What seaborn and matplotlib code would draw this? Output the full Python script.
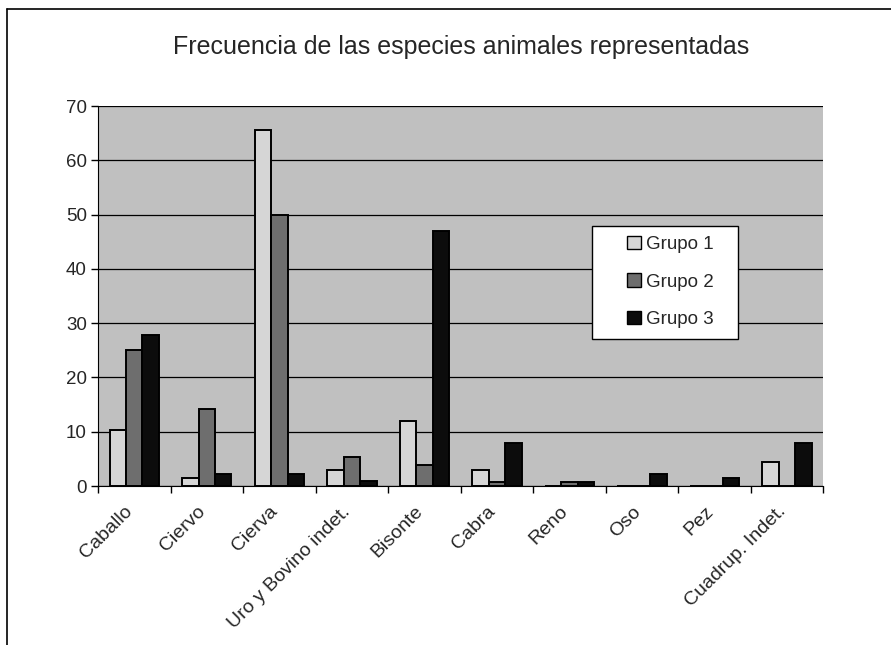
import pandas as pd
import numpy as np
import matplotlib.pyplot as plt
import matplotlib.transforms as mtransforms
import seaborn as sns

especies = ['Caballo', 'Ciervo', 'Cierva', 'Uro y Bovino indet.', 'Bisonte',
            'Cabra', 'Reno', 'Oso', 'Pez', 'Cuadrup. Indet.']
grupo1 = [10.4, 1.4, 65.6, 3.0, 12.0, 3.0, 0.0, 0.0, 0.0, 4.4]
grupo2 = [25.0, 14.1, 50.0, 5.4, 3.9, 0.8, 0.8, 0.0, 0.0, 0.0]
grupo3 = [27.8, 2.3, 2.3, 0.9, 47.0, 8.0, 0.8, 2.3, 1.5, 8.0]
grupos = ['Grupo 1', 'Grupo 2', 'Grupo 3']

df = pd.DataFrame({
    'especie': especies * 3,
    'valor': grupo1 + grupo2 + grupo3,
    'grupo': [g for g in grupos for _ in especies],
})

sns.set_style('white')
plt.rcParams['font.family'] = ['Liberation Sans', 'DejaVu Sans']

fig = plt.figure(figsize=(8.91, 6.45), dpi=100)
ax = fig.add_axes([0.110, 0.2465, 0.814, 0.589])

sns.barplot(data=df, x='especie', y='valor', hue='grupo', ax=ax,
            palette=['#d6d6d6', '#6e6e6e', '#0c0c0c'], width=0.68,
            edgecolor='black', linewidth=1.4, saturation=1)

ax.set_facecolor('#c0c0c0')
ax.set_ylim(0, 70)
ax.set_xlim(-0.5, len(especies) - 0.5)
ax.set_yticks(range(0, 71, 10))
ax.yaxis.grid(True, color='black', linewidth=0.9)
ax.set_axisbelow(True)
for s in ['top', 'right']:
    ax.spines[s].set_visible(False)
ax.spines['left'].set_color('black')
ax.spines['bottom'].set_color('black')

# ticks entre grupos; etiquetas giradas bajo el centro de cada grupo
ax.set_xticks(np.arange(-0.5, len(especies), 1))
ax.set_xticklabels([])
ax.tick_params(axis='x', length=5, width=1, color='black', direction='out', bottom=True)
ax.tick_params(axis='y', length=5, width=1, color='black', direction='out', left=True, labelsize=13.5, pad=3)
ax.set_xlabel('')
ax.set_ylabel('')

desplaza = mtransforms.ScaledTranslation(-10 / 100, -17 / 100, fig.dpi_scale_trans)
for i, nombre in enumerate(especies):
    ax.text(i, 0, nombre, transform=ax.get_xaxis_transform() + desplaza,
            rotation=45, ha='right', va='top', rotation_mode='anchor', fontsize=14)

# caja de la leyenda
ax.add_patch(plt.Rectangle((0.681, 0.387), 0.202, 0.298, transform=ax.transAxes,
                           facecolor='white', edgecolor='black', linewidth=1, zorder=5))
leg = ax.legend(loc='center left', bbox_to_anchor=(0.730, 0.537), fontsize=13.5,
                frameon=False, handlelength=0.7, handleheight=0.7, handletextpad=0.3,
                labelspacing=1.09, borderpad=0, borderaxespad=0)
leg.set_zorder(6)
for h in leg.legend_handles:
    h.set_linewidth(1)

fig.text(0.517, 0.927, 'Frecuencia de las especies animales representadas',
         ha='center', va='center', fontsize=18)

# marco exterior (solo izquierda y arriba)
fig.add_artist(plt.Line2D([7 / 891, 7 / 891], [0, 1 - 9 / 645], color='black', linewidth=1.2))
fig.add_artist(plt.Line2D([7 / 891, 1], [1 - 9 / 645, 1 - 9 / 645], color='black', linewidth=1.2))

plt.savefig('out.png', dpi=100)
